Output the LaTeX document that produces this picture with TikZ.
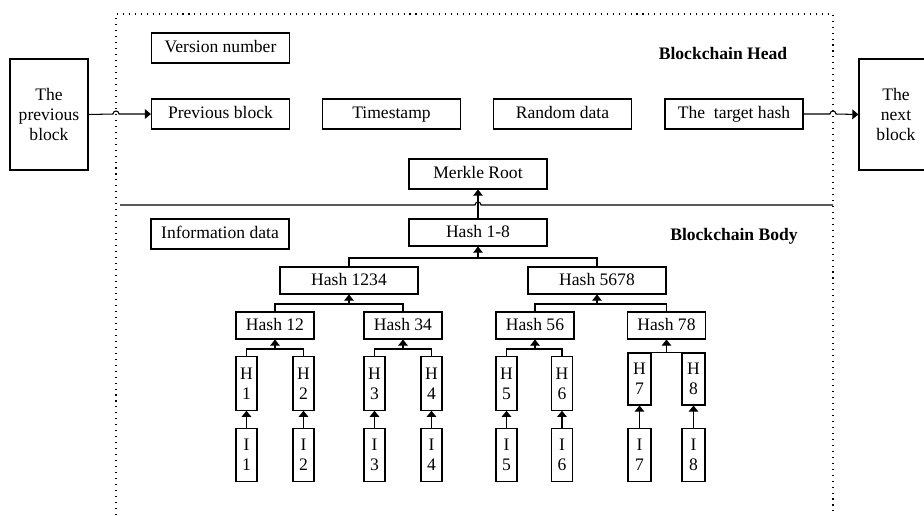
\documentclass[tikz,border=0pt]{standalone}
\usepackage{fontspec}
\setmainfont{Liberation Serif}
\usetikzlibrary{arrows.meta}
\tikzset{
	box/.style={draw, line width=0.6pt, inner sep=0pt, align=center, font=\fontsize{10}{11.5}\selectfont},
	wide/.style={box, minimum width=2.76cm, minimum height=0.6cm, text height=1.6ex, text depth=0.4ex},
	hashbox/.style={box, minimum width=1.56cm, minimum height=0.54cm, text height=1.6ex, text depth=0.4ex},
	leaf/.style={box, minimum width=0.42cm, minimum height=1.07cm},
	link/.style={line width=0.6pt, -{Triangle[width=5.5pt,length=3.5pt]}},
	title/.style={font=\fontsize{10}{12}\selectfont\bfseries}
}
\begin{document}
\begin{tikzpicture}[x=0.02cm, y=-0.02cm]
	\useasboundingbox (0,0) rectangle (924,515);
	% frame of the block
	\draw[line width=0.6pt, dash pattern=on 0.6pt off 2.8pt] (116,515) -- (116,14) -- (833,14) -- (833,515);
	\draw[line width=0.6pt] (120,205) -- (475,205) .. controls (475,201) and (481,201) .. (481,205) -- (833,205);
	\node[title] (head) at (723,53) {Blockchain Head};
	\node[title] (body) at (734,236) {Blockchain Body};
	% neighbours
	\node[box, minimum width=1.56cm, minimum height=2.22cm] (prevblk) at (49,114.5) {The\\previous\\block};
	\node[box, minimum width=1.48cm, minimum height=2.22cm] (nextblk) at (896,114.5) {The\\next\\block};
	% head fields
	\node[wide] (version) at (220.5,48) {Version number};
	\node[wide] (prev) at (220.5,114) {Previous block};
	\node[wide] (time) at (391.5,114) {Timestamp};
	\node[wide] (rand) at (562.5,114) {Random data};
	\node[wide] (target) at (734,114) {The~ target hash};
	\node[wide] (root) at (478,174) {Merkle Root};
	\draw[link] (prevblk.east) -- (113,114) .. controls (113,110) and (119,110) .. (119,114) -- (prev.west);
	\draw[link] (target.east) -- (830,114) .. controls (830,110) and (836,110) .. (836,114) -- (nextblk.west);
	% body
	\node[wide] (info) at (220,234) {Information data};
	\node[wide, minimum height=0.54cm] (h18) at (478,232.5) {Hash 1-8};
	\node[wide, minimum height=0.54cm] (h1234) at (349,280.5) {Hash 1234};
	\node[wide, minimum height=0.54cm] (h5678) at (597,280.5) {Hash 5678};
	\node[hashbox] (h12) at (275,325.5) {Hash 12};
	\node[hashbox] (h34) at (403,325.5) {Hash 34};
	\node[hashbox] (h56) at (535,325.5) {Hash 56};
	\node[hashbox] (h78) at (666.5,325.5) {Hash 78};
	\draw[link] (h18.north) -- (root.south);
	\coordinate (j18) at (478,258);
	\draw[line width=0.6pt] (h1234.north) |- (j18) -| (h5678.north);
	\draw[link] (j18) -- (h18.south);
	\coordinate (j1234) at (349,304);
	\draw[line width=0.6pt] (h12.north) |- (j1234) -| (h34.north);
	\draw[link] (j1234) -- (h1234.south);
	\coordinate (j5678) at (597,304);
	\draw[line width=0.6pt] (h56.north) |- (j5678) -| (h78.north);
	\draw[link] (j5678) -- (h5678.south);
	% leaves
	\foreach \i/\x in {1/246.5,2/303.5,3/374.5,4/431.5,5/506.5,6/562}{
		\node[leaf] (H\i) at (\x,383.5) {H\\\i};
		\node[leaf] (I\i) at (\x,455) {I\\\i};
		\draw[link] (I\i.north) -- (H\i.south);
	}
	\foreach \i/\x in {7/639.5,8/693.5}{
		\node[leaf, minimum width=0.46cm, minimum height=1.04cm] (H\i) at (\x,379) {H\\\i};
		\node[leaf, minimum width=0.46cm] (I\i) at (\x,455) {I\\\i};
		\draw[link] (I\i.north) -- (H\i.south);
	}
	\coordinate (j12) at (275,349);
	\draw[line width=0.6pt] (H1.north) |- (j12) -| (H2.north);
	\draw[link] (j12) -- (h12.south);
	\coordinate (j34) at (403,349);
	\draw[line width=0.6pt] (H3.north) |- (j34) -| (H4.north);
	\draw[link] (j34) -- (h34.south);
	\coordinate (j56) at (535,349);
	\draw[line width=0.6pt] (H5.north) |- (j56) -| (H6.north);
	\draw[link] (j56) -- (h56.south);
	\coordinate (j78) at (666.5,353);
	\draw[line width=0.6pt] (H7.north) -- (H8.north);
	\draw[link] (j78) -- (h78.south);
\end{tikzpicture}
\end{document}
